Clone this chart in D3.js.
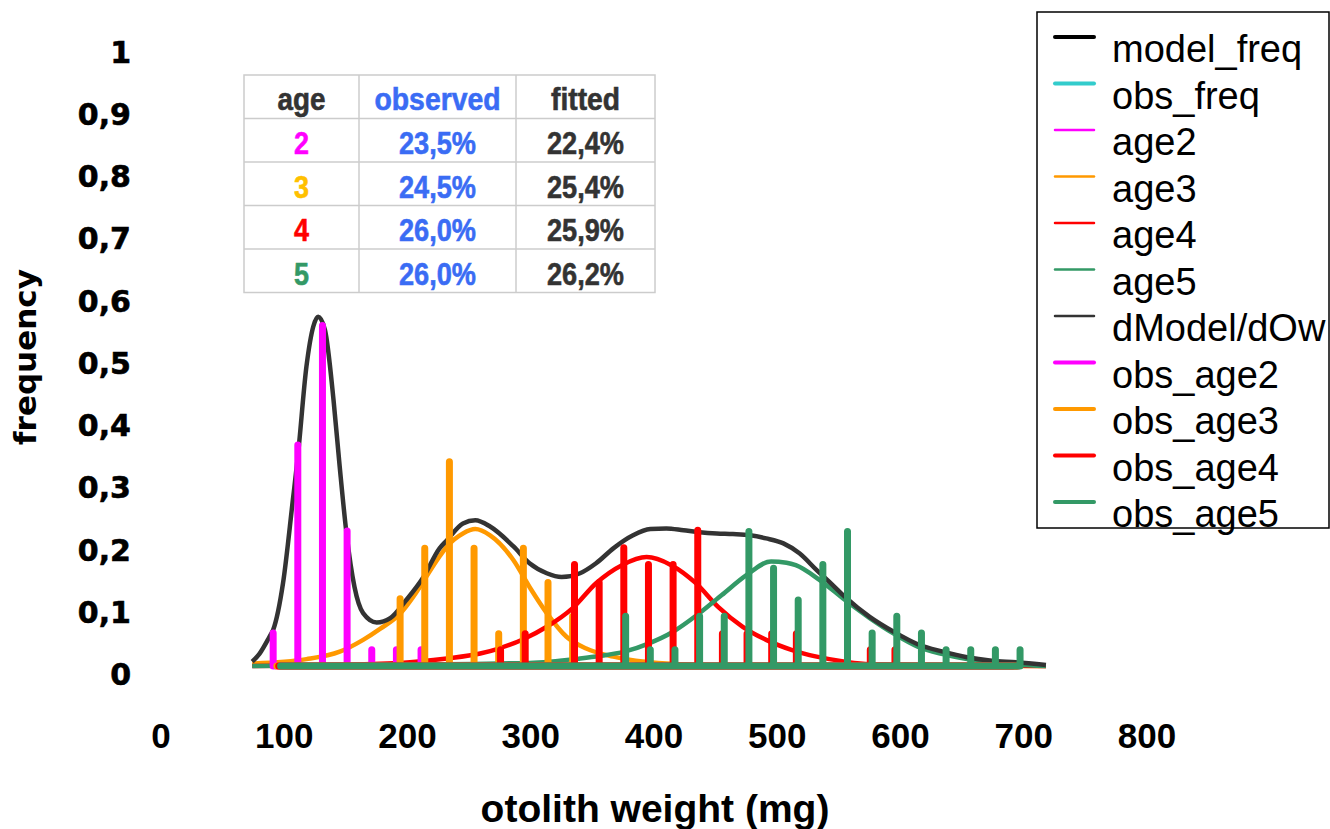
<!DOCTYPE html>
<html>
<head>
<meta charset="utf-8">
<script src="https://cdn.jsdelivr.net/npm/d3@7"></script>
<style>
  body { margin: 0; background: #fff; }
  svg { display: block; }
</style>
</head>
<body>
<svg id="chart" width="1330" height="829"></svg>
<script>
// weight classes (mg) of the observed frequencies
const classes = [90, 110, 130, 150, 170, 190, 210, 230, 250, 270, 290, 310, 330, 350, 370, 390,
                 410, 430, 450, 470, 490, 510, 530, 550, 570, 590, 610, 630, 650, 670, 690];

const obsAge2 = [0.053, 0.355, 0.547, 0.217, 0.026, 0.026, 0.026, 0, 0, 0, 0, 0, 0, 0, 0, 0,
                 0, 0, 0, 0, 0, 0, 0, 0, 0, 0, 0, 0, 0, 0, 0];
const obsAge3 = [0, 0, 0, 0, 0, 0.108, 0.189, 0.328, 0.189, 0.052, 0.189, 0.134, 0.08, 0, 0, 0,
                 0, 0, 0, 0, 0, 0, 0, 0, 0, 0, 0, 0, 0, 0, 0];
const obsAge4 = [0, 0, 0, 0, 0, 0, 0, 0, 0, 0.026, 0.052, 0, 0.163, 0.134, 0.19, 0.163,
                 0.163, 0.218, 0.052, 0.052, 0.052, 0.052, 0, 0, 0.026, 0.026, 0, 0, 0, 0, 0];
const obsAge5 = [0, 0, 0, 0, 0, 0, 0, 0, 0, 0, 0, 0, 0, 0, 0.08, 0.026,
                 0.026, 0.08, 0.08, 0.216, 0.157, 0.106, 0.163, 0.216, 0.053, 0.08, 0.053, 0.026, 0.026, 0.026, 0.026];
// small x shift (mg) each observed series is drawn with
const obsShift = [1, 4, 5.5, 7];

// fitted curves, [weight mg, frequency]
const dModel = [[74, 0.007], [80, 0.02], [88, 0.047], [91, 0.058], [99, 0.133], [107, 0.267], [111, 0.336],
  [118, 0.481], [123.5, 0.545], [127.5, 0.561], [133, 0.54], [140, 0.427], [145, 0.32], [150.5, 0.213],
  [157, 0.127], [164, 0.085], [175, 0.07], [186, 0.077], [199, 0.106], [213, 0.143], [226, 0.189],
  [232, 0.202], [245, 0.229], [255, 0.234], [267, 0.224], [286, 0.192], [299, 0.165], [313, 0.149],
  [325, 0.143], [340, 0.149], [353, 0.165], [367, 0.189], [383, 0.21], [397, 0.22], [410, 0.221],
  [424, 0.218], [437, 0.215], [451, 0.213], [464, 0.212], [478, 0.21], [491, 0.205], [505, 0.197],
  [518, 0.181], [532, 0.154], [545, 0.13], [555, 0.111], [575, 0.079], [594.5, 0.055], [614, 0.035],
  [634.5, 0.023], [654, 0.014], [674, 0.0085], [694, 0.006], [718, 0.0016]];
const age3 = [[74, 0.004], [118, 0.011], [145, 0.023], [164, 0.042], [178, 0.06], [194, 0.084],
  [205, 0.112], [210, 0.127], [226, 0.176], [232, 0.192], [245, 0.213], [255, 0.22], [267, 0.21],
  [286, 0.17], [299, 0.127], [313, 0.085], [329, 0.047], [345, 0.028], [367, 0.015], [410, 0.004],
  [453, 0.001], [718, 0]];
const age4 = [[74, 0], [194, 0.005], [232, 0.012], [259, 0.02], [274, 0.028], [294, 0.043],
  [313, 0.063], [334, 0.093], [353, 0.133], [374, 0.162], [394, 0.175], [414, 0.162], [434, 0.133],
  [452, 0.095], [472, 0.063], [491, 0.042], [511.5, 0.026], [532, 0.015], [555, 0.007], [575, 0.003],
  [718, 0]];
const age5 = [[74, 0], [299, 0.005], [340, 0.012], [356, 0.016], [376, 0.023], [395.5, 0.036],
  [415.5, 0.055], [435, 0.082], [455, 0.114], [475, 0.146], [495, 0.168], [507.5, 0.166], [515, 0.162],
  [534.5, 0.138], [555, 0.106], [575, 0.077], [594.5, 0.052], [614, 0.031], [634.5, 0.019],
  [654, 0.011], [674, 0.005], [694, 0.002], [718, 0]];

const xTicks = [0, 100, 200, 300, 400, 500, 600, 700, 800];
const yTicks = [0, 0.1, 0.2, 0.3, 0.4, 0.5, 0.6, 0.7, 0.8, 0.9, 1];

const legendNames = ["model_freq", "obs_freq", "age2", "age3", "age4", "age5", "dModel/dOw",
                     "obs_age2", "obs_age3", "obs_age4", "obs_age5"];
const legendColors = ["#000000", "#33cccc", "#ff00ff", "#ff9900", "#ff0000", "#339966", "#333333",
                      "#ff00ff", "#ff9900", "#ff0000", "#339966"];

const tableAges = [2, 3, 4, 5];
const tableObserved = [23.5, 24.5, 26.0, 26.0];
const tableFitted = [22.4, 25.4, 25.9, 26.2];
const tableAgeColors = ["#ff00ff", "#ffc000", "#ff0000", "#339966"];

const colMagenta = "#ff00ff", colOrange = "#ff9900", colRed = "#ff0000", colGreen = "#339966";

const svg = d3.select("#chart");

const x = d3.scaleLinear().domain([0, 800]).range([161, 1147]);
const y = d3.scaleLinear().domain([0, 1]).range([666, 43.5]);

const comma = d3.formatLocale({ decimal: ",", thousands: ".", grouping: [3], currency: ["", ""] });
const fmtY = comma.format(".1~f");
const fmtPct = comma.format(".1f");

// axis labels only, no lines
svg.append("g")
  .selectAll("text")
  .data(yTicks)
  .join("text")
    .attr("x", 131)
    .attr("y", d => y(d) + 19)
    .attr("text-anchor", "end")
    .style("font-family", "'DejaVu Sans', sans-serif")
    .style("font-weight", "bold")
    .style("font-size", "30px")
    .style("stroke", "#000")
    .style("stroke-width", 0.6)
    .text(d => fmtY(d));

svg.append("g")
  .selectAll("text")
  .data(xTicks)
  .join("text")
    .attr("x", d => x(d))
    .attr("y", 748)
    .attr("text-anchor", "middle")
    .style("font-family", "'Liberation Sans', Arial, sans-serif")
    .style("font-weight", "bold")
    .style("font-size", "35px")
    .text(d => d);

svg.append("text")
  .attr("x", 655)
  .attr("y", 822)
  .attr("text-anchor", "middle")
  .style("font-family", "'Liberation Sans', Arial, sans-serif")
  .style("font-weight", "bold")
  .style("font-size", "39px")
  .text("otolith weight (mg)");

svg.append("text")
  .attr("transform", "translate(36,357) rotate(-90)")
  .attr("text-anchor", "middle")
  .style("font-family", "'DejaVu Sans', sans-serif")
  .style("font-weight", "bold")
  .style("font-size", "31px")
  .text("frequency");

// fitted curves
const curve = d3.line()
  .x(d => x(d[0]))
  .y(d => y(d[1]))
  .curve(d3.curveMonotoneX);

const curves = [[age3, colOrange], [age4, colRed], [age5, colGreen], [dModel, "#333333"]];
svg.append("g")
  .selectAll("path")
  .data(curves)
  .join("path")
    .attr("d", d => curve(d[0]))
    .attr("fill", "none")
    .attr("stroke", d => d[1])
    .attr("stroke-width", 4.5)
    .attr("stroke-linejoin", "round");

// observed series as spikes from the baseline
const spikes = d3.line().x(d => x(d[0])).y(d => y(d[1]));
const obsSeries = [obsAge2, obsAge3, obsAge4, obsAge5];
const obsColors = [colMagenta, colOrange, colRed, colGreen];

svg.append("g")
  .selectAll("path")
  .data(obsSeries)
  .join("path")
    .attr("d", (s, k) => spikes(s.flatMap((v, i) => {
      const c = classes[i] + obsShift[k];
      return [[c, 0], [c, v], [c, 0]];
    })))
    .attr("fill", "none")
    .attr("stroke", (s, k) => obsColors[k])
    .attr("stroke-width", 7)
    .attr("stroke-linecap", "round")
    .attr("stroke-linejoin", "round");

// summary table
const colEdges = [244, 359, 516, 655];
const rowTop = 75, rowH = 43.5;
const table = svg.append("g");

table.append("rect")
  .attr("x", colEdges[0]).attr("y", rowTop)
  .attr("width", colEdges[3] - colEdges[0]).attr("height", rowH * 5)
  .attr("fill", "#fff").attr("stroke", "#cccccc").attr("stroke-width", 1.5);

table.selectAll(".hline")
  .data([1, 2, 3, 4])
  .join("line")
    .attr("x1", colEdges[0]).attr("x2", colEdges[3])
    .attr("y1", d => rowTop + d * rowH).attr("y2", d => rowTop + d * rowH)
    .attr("stroke", "#cccccc").attr("stroke-width", 1.5);

table.selectAll(".vline")
  .data([1, 2])
  .join("line")
    .attr("x1", d => colEdges[d]).attr("x2", d => colEdges[d])
    .attr("y1", rowTop).attr("y2", rowTop + rowH * 5)
    .attr("stroke", "#cccccc").attr("stroke-width", 1.5);

const cells = [
  { r: 0, c: 0, t: "age", col: "#333333", w: 48 },
  { r: 0, c: 1, t: "observed", col: "#3a6cf4", w: 126 },
  { r: 0, c: 2, t: "fitted", col: "#333333", w: 69 }
];
tableAges.forEach((a, i) => {
  cells.push({ r: i + 1, c: 0, t: String(a), col: tableAgeColors[i], w: 15 });
  cells.push({ r: i + 1, c: 1, t: fmtPct(tableObserved[i]) + "%", col: "#3a6cf4", w: 77 });
  cells.push({ r: i + 1, c: 2, t: fmtPct(tableFitted[i]) + "%", col: "#333333", w: 77 });
});

table.selectAll(".cell")
  .data(cells)
  .join("text")
    .attr("class", "cell")
    .attr("x", d => (colEdges[d.c] + colEdges[d.c + 1]) / 2)
    .attr("y", d => rowTop + d.r * rowH + (d.r === 0 ? 34.5 : 35.5))
    .attr("text-anchor", "middle")
    .attr("textLength", d => d.w)
    .attr("lengthAdjust", "spacingAndGlyphs")
    .style("font-family", "'Liberation Sans Narrow', 'Liberation Sans', Arial, sans-serif")
    .style("font-weight", "bold")
    .style("font-size", "32px")
    .style("stroke", d => d.col)
    .style("stroke-width", 0.6)
    .attr("fill", d => d.col)
    .text(d => d.t);

// legend
const legend = svg.append("g");
legend.append("rect")
  .attr("x", 1037).attr("y", 12)
  .attr("width", 292).attr("height", 516)
  .attr("fill", "#fff").attr("stroke", "#000").attr("stroke-width", 1.5);

const thick = new Set(["model_freq", "obs_freq", "obs_age2", "obs_age3", "obs_age4", "obs_age5"]);
const item = legend.selectAll(".item")
  .data(legendNames)
  .join("g")
    .attr("class", "item")
    .attr("transform", (d, i) => `translate(0,${37 + i * 46.5})`);

item.append("line")
  .attr("x1", 1055).attr("x2", 1094)
  .attr("stroke", (d, i) => legendColors[i])
  .attr("stroke-width", d => thick.has(d) ? 4 : 2.5)
  .attr("stroke-linecap", "round");

item.append("text")
  .attr("x", 1112)
  .attr("y", 25)
  .style("font-family", "'Liberation Sans', Arial, sans-serif")
  .style("font-size", "38px")
  .attr("fill", "#000")
  .text(d => d);
</script>
</body>
</html>
